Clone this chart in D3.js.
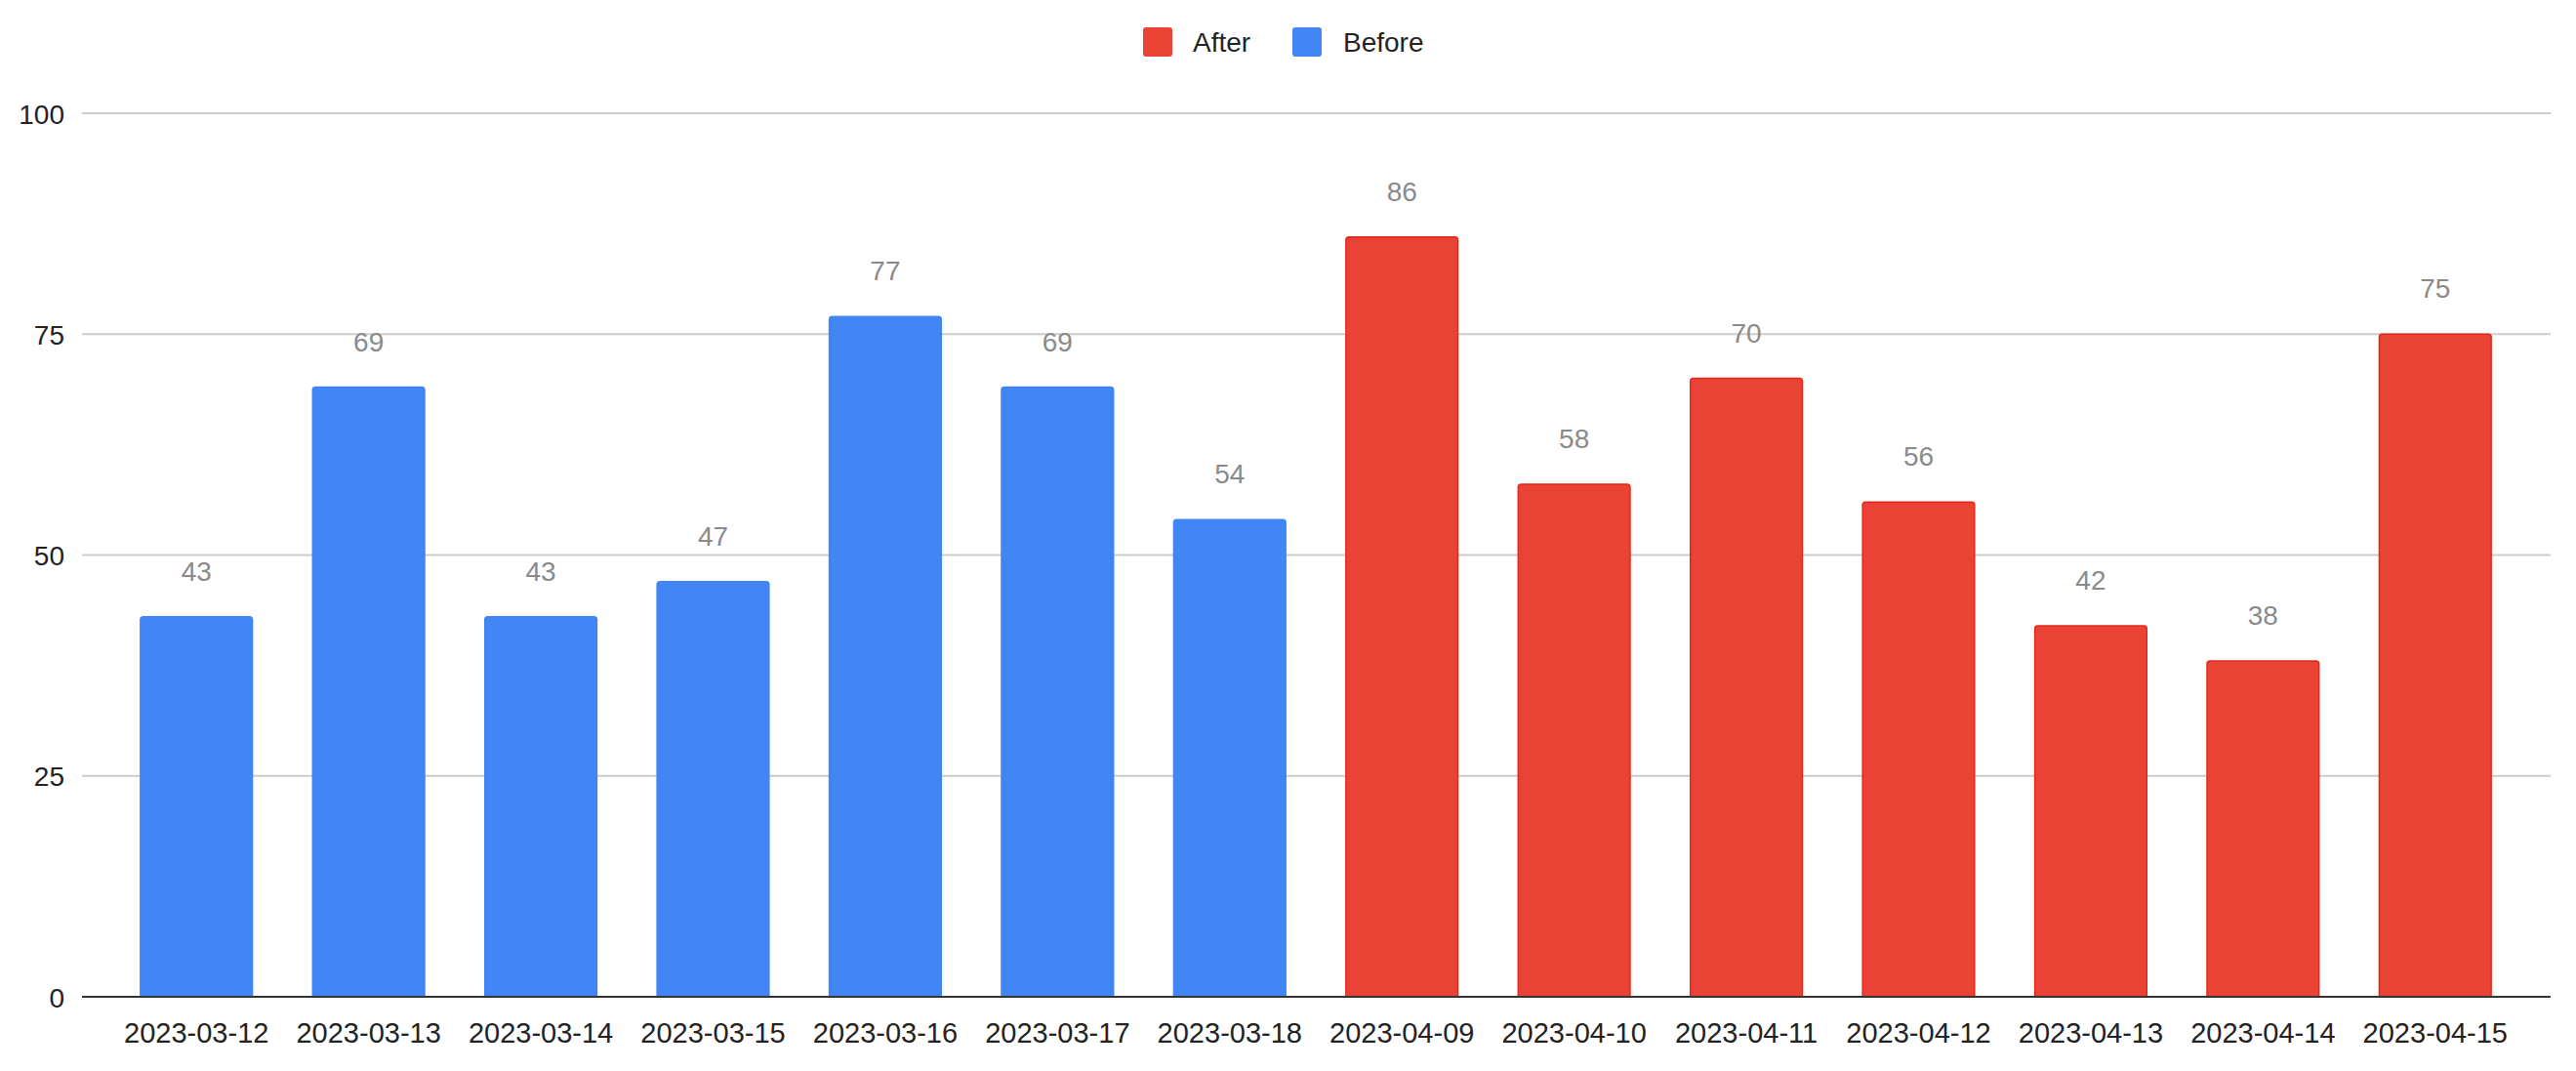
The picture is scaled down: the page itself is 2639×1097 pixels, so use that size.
<!DOCTYPE html>
<html>
<head>
<meta charset="utf-8">
<script src="https://cdn.jsdelivr.net/npm/d3@7"></script>
<style>
  html, body { margin: 0; padding: 0; background: #fff; }
  svg { display: block; }
  text { font-family: "Liberation Sans", Arial, sans-serif; }
</style>
</head>
<body>
<svg id="chart" width="2639" height="1097"></svg>
<script>
const categories = ["2023-03-12","2023-03-13","2023-03-14","2023-03-15","2023-03-16","2023-03-17","2023-03-18",
                    "2023-04-09","2023-04-10","2023-04-11","2023-04-12","2023-04-13","2023-04-14","2023-04-15"];
const values = [43, 69, 43, 47, 77, 69, 54, 86, 58, 70, 56, 42, 38, 75];
const groups = ["Before","Before","Before","Before","Before","Before","Before",
                "After","After","After","After","After","After","After"];
const seriesNames = ["After", "Before"];
const seriesColors = ["#EA4335", "#4285F4"];
const yTicks = [0, 25, 50, 75, 100];

const svg = d3.select("#chart");
const gridLeft = 84, gridRight = 2613;
const bandLeft = 113, bandRight = 2583;
const yTop = 116, yBottom = 1021;

const x = d3.scaleBand().domain(categories).range([bandLeft, bandRight]).paddingInner(0.35).paddingOuter(0.175);
const y = d3.scaleLinear().domain([0, 100]).range([yBottom, yTop]);
const color = d3.scaleOrdinal().domain(seriesNames).range(seriesColors);

// gridlines
svg.append("g").selectAll("line").data(yTicks.filter(d => d !== 0)).join("line")
  .attr("x1", gridLeft).attr("x2", gridRight)
  .attr("y1", d => y(d)).attr("y2", d => y(d))
  .attr("stroke", "#cccccc").attr("stroke-width", 2);

// y axis labels
const yAxis = d3.axisLeft(y).tickValues(yTicks).tickSize(0).tickPadding(0);
const yg = svg.append("g").attr("transform", `translate(${66},0)`).call(yAxis);
yg.select(".domain").remove();
yg.selectAll("text").attr("font-size", 28).attr("fill", "#222").attr("dy", "0.36em");

// bars
const data = categories.map((c, i) => ({ c, v: values[i], g: groups[i] }));
svg.append("g").selectAll("path").data(data).join("path")
  .attr("d", d => {
    const x0 = x(d.c), w = x.bandwidth(), y0 = y(d.v), y1 = y(0), r = 3;
    return `M${x0},${y1}V${y0 + r}Q${x0},${y0} ${x0 + r},${y0}H${x0 + w - r}Q${x0 + w},${y0} ${x0 + w},${y0 + r}V${y1}Z`;
  })
  .attr("fill", d => color(d.g))
  .attr("stroke", d => d.g === "After" ? "#e5271b" : "#3f84f2")
  .attr("stroke-width", 1.5);

// baseline
svg.append("line").attr("x1", gridLeft).attr("x2", gridRight)
  .attr("y1", y(0)).attr("y2", y(0)).attr("stroke", "#333").attr("stroke-width", 2);

// x axis labels
const xAxis = d3.axisBottom(x).tickSize(0).tickPadding(0);
const xg = svg.append("g").attr("transform", `translate(0,${y(0)})`).call(xAxis);
xg.select(".domain").remove();
xg.selectAll("text").attr("font-size", 29).attr("fill", "#222").attr("dy", null).attr("y", 47);

// value labels
svg.append("g").selectAll("text").data(data).join("text")
  .attr("x", d => x(d.c) + x.bandwidth() / 2)
  .attr("y", d => y(d.v) - 37)
  .attr("text-anchor", "middle")
  .attr("font-size", 28)
  .attr("fill", "#8a8a8a")
  .text(d => d.v);

// legend
const legendItems = [
  { name: seriesNames[0], sx: 1171, tx: 1222 },
  { name: seriesNames[1], sx: 1324, tx: 1376 }
];
const lg = svg.append("g");
legendItems.forEach(it => {
  lg.append("rect").attr("x", it.sx).attr("y", 28).attr("width", 30).attr("height", 30)
    .attr("rx", 3).attr("fill", color(it.name));
  lg.append("text").attr("x", it.tx).attr("y", 53).attr("font-size", 28).attr("fill", "#222").text(it.name);
});
</script>
</body>
</html>
